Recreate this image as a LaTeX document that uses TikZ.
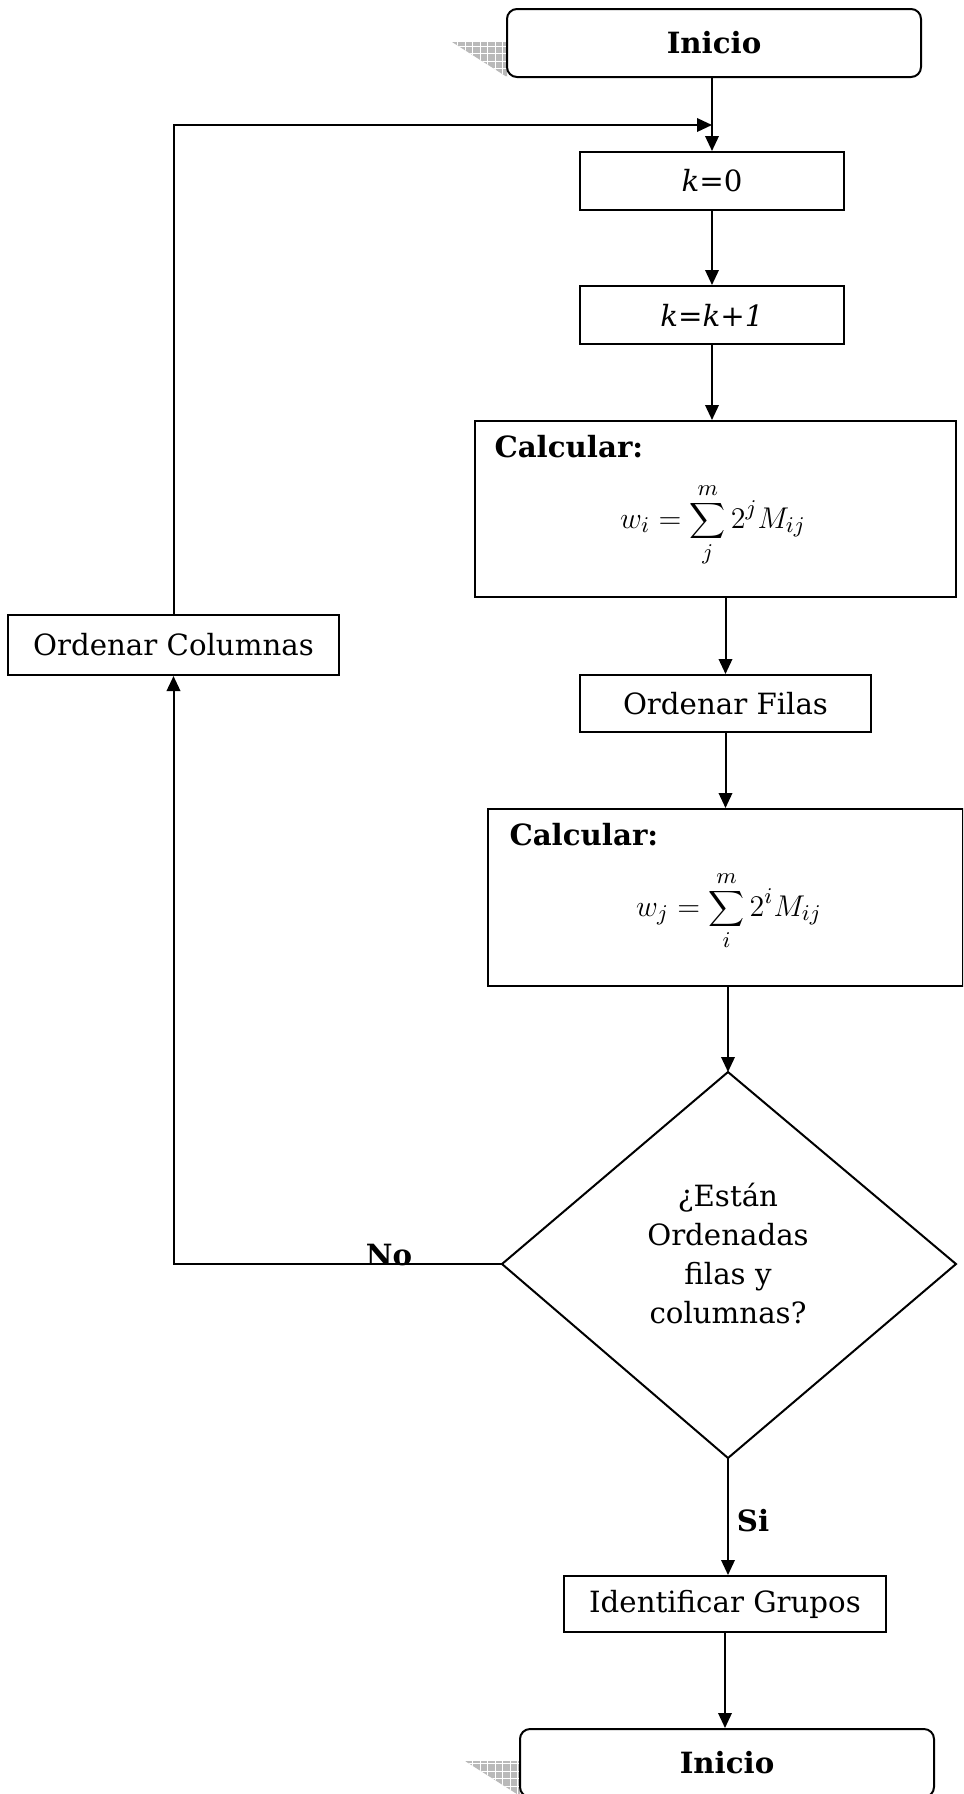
\documentclass[tikz,border=0pt]{standalone}
\usepackage{fontspec}
\setmainfont{DejaVu Serif}
\usetikzlibrary{arrows.meta,patterns}
\begin{document}
\begin{tikzpicture}[x=0.4pt,y=-0.4pt,
  every node/.style={font=\fontsize{11.7}{15.6}\selectfont},
  box/.style={draw,line width=0.8pt,fill=white,inner sep=0pt},
  term/.style={box,rounded corners=4pt},
  arr/.style={line width=0.8pt,-{Triangle[length=6pt,width=5.4pt]}},
  ln/.style={line width=0.8pt},
  formula/.style={font=\fontsize{13.2}{16}\selectfont,inner sep=0pt},
  label/.style={inner sep=0pt,anchor=west},
  shadowfill/.style={fill=gray!55}]
\useasboundingbox (0,0) rectangle (963,1794);
\clip (0,0) rectangle (963,1794);
% shadows
\fill[shadowfill] (452,42) -- (507,42) -- (507,77) -- cycle;
\fill[pattern=grid,pattern color=white] (452,42) -- (507,42) -- (507,77) -- cycle;
\fill[shadowfill] (465,1761) -- (520,1761) -- (520,1796) -- cycle;
\fill[pattern=grid,pattern color=white] (465,1761) -- (520,1761) -- (520,1796) -- cycle;
% nodes
\node[term,minimum width=165.6pt,minimum height=27.2pt] (ini1) at (714,43) {\textbf{Inicio}};
\node[box,minimum width=105.6pt,minimum height=23.2pt] (k0) at (712,181) {\textit{k}=0};
\node[box,minimum width=105.6pt,minimum height=23.2pt] (k1) at (712,315) {\textit{k}=\textit{k+1}};
\node[box,minimum width=192.4pt,minimum height=70.4pt] (c1) at (715.5,509) {};
\node[label] (c1t) at (494,447) {\textbf{Calcular:}};
\node[formula] (c1f) at (713,525) {$\displaystyle w_i=\sum_{j}^{m}2^{j}M_{ij}$};
\node[box,minimum width=116.4pt,minimum height=22.8pt] (of) at (725.5,703.5) {Ordenar Filas};
\node[box,minimum width=190pt,minimum height=70.8pt] (c2) at (725.5,897.5) {};
\node[label] (c2t) at (509,835) {\textbf{Calcular:}};
\node[formula] (c2f) at (729,911) {$\displaystyle w_j=\sum_{i}^{m}2^{i}M_{ij}$};
\coordinate (dt) at (728,1072);
\coordinate (dr) at (956,1264);
\coordinate (db) at (728,1458);
\coordinate (dl) at (502,1264);
\draw[ln] (dt) -- (dr) -- (db) -- (dl) -- cycle;
\node[align=center] (dtext) at (728,1253) {¿Están\\Ordenadas\\filas y\\columnas?};
\node[box,minimum width=132.4pt,minimum height=24pt] (oc) at (173.5,645) {Ordenar Columnas};
\node[box,minimum width=128.8pt,minimum height=22.4pt] (ig) at (725,1604) {Identificar Grupos};
\node[term,minimum width=165.6pt,minimum height=27.2pt] (ini2) at (727,1763) {\textbf{Inicio}};
% connectors
\coordinate (j) at (712,125);
\draw[arr] (ini1.south -| k0) -- (k0.north);
\draw[arr] (oc.north) |- (j);
\draw[arr] (k0.south) -- (k1.north);
\draw[arr] (k1.south) -- (k1.south |- c1.north);
\draw[arr] (of.north |- c1.south) -- (of.north);
\draw[arr] (of.south) -- (c2.north);
\draw[arr] (c2.south -| dt) -- (dt);
\draw[arr] (dl) -| (oc.south);
\node (no) at (389,1255) {\textbf{No}};
\draw[arr] (db) -- (db |- ig.north);
\node (si) at (753,1521) {\textbf{Si}};
\draw[arr] (ig.south) -- (ig.south |- ini2.north);
\end{tikzpicture}
\end{document}
